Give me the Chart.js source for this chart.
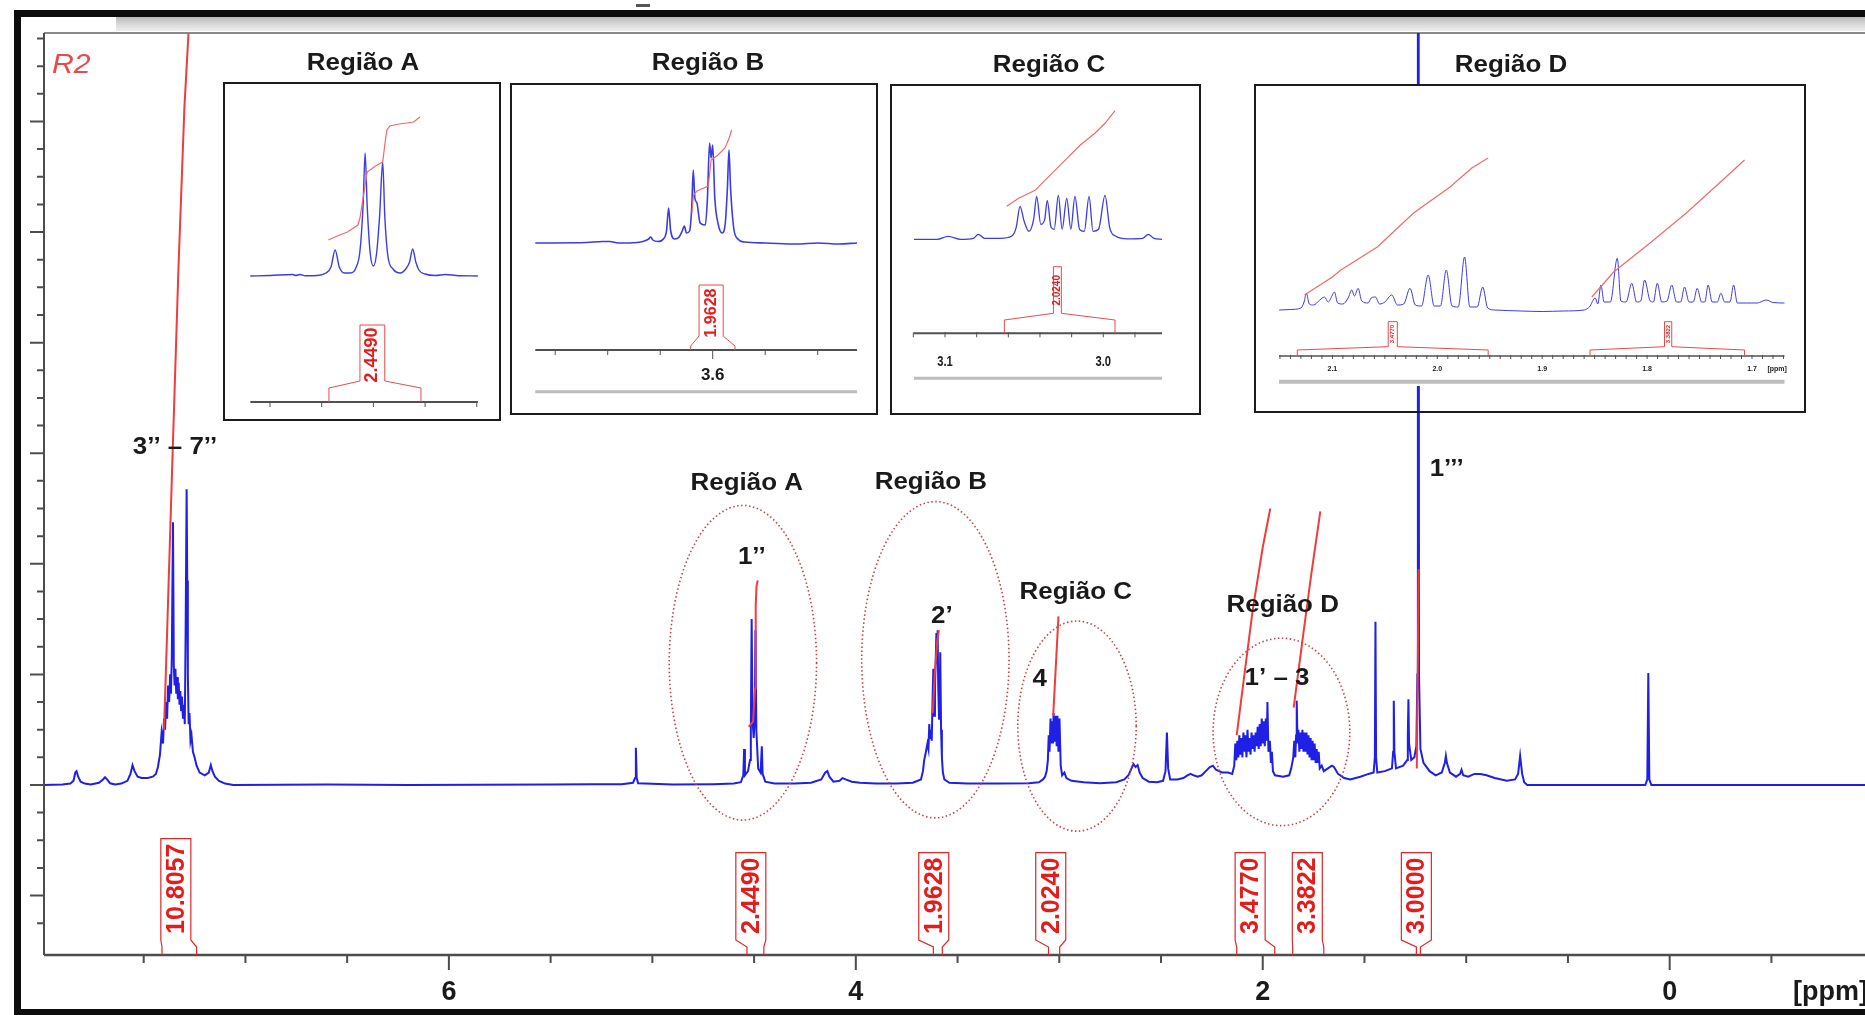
<!DOCTYPE html>
<html lang="pt">
<head>
<meta charset="utf-8">
<title>Espectro de RMN de 1H – R2</title>
<script src="https://cdn.jsdelivr.net/npm/chart.js@4.4.1/dist/chart.umd.min.js"></script>
<style>
  html, body { margin: 0; padding: 0; background: #fff; }
  #stage { position: relative; width: 1865px; height: 1015px; overflow: hidden; }
  #mainChart { position: absolute; left: 0; top: 0; }
  .inset { position: absolute; box-sizing: border-box; border: 2px solid #1b1b1b; background: #fff; }
  .inset canvas { display: block; }
</style>
</head>
<body>
<div id="stage">
  <canvas id="mainChart" width="1865" height="1015"></canvas>
  <div class="inset" style="left:223px;top:82px;width:278px;height:339px"><canvas id="insetA" width="274" height="335"></canvas></div>
  <div class="inset" style="left:510px;top:83px;width:368px;height:332px"><canvas id="insetB" width="364" height="328"></canvas></div>
  <div class="inset" style="left:890px;top:84px;width:311px;height:331px"><canvas id="insetC" width="307" height="327"></canvas></div>
  <div class="inset" style="left:1254px;top:84px;width:552px;height:329px;background:linear-gradient(#fff 0,#fff 300px,transparent 300px)"><canvas id="insetD" width="548" height="325"></canvas></div>
</div>
<script>
// ---------- textos ----------
const xTickLabels = ['6', '4', '2', '0'];
const xTickValues = [6, 4, 2, 0];
const regionLabels = ['Região A', 'Região B', 'Região C', 'Região D'];
const peakLabels = ['3\u2019\u2019 \u2013 7\u2019\u2019', '1\u2019\u2019', '2\u2019', '4', '1\u2019 \u2013 3', '1\u2019\u2019\u2019'];

// ---------- espectro principal: [ppm, intensidade] ----------
const specAromatic = [
  [7.99,0],[7.90,0.02],[7.86,0.05],[7.845,0.15],[7.836,0.45],[7.83,0.5],[7.822,0.3],[7.81,0.12],[7.79,0.05],
  [7.76,0.02],[7.72,0.08],[7.70,0.2],[7.69,0.28],[7.68,0.2],[7.665,0.06],[7.64,0.02],[7.61,0.05],[7.58,0.15],
  [7.565,0.4],[7.555,0.72],[7.545,0.5],[7.53,0.3],[7.51,0.25],[7.48,0.25],[7.455,0.3],[7.44,0.4],[7.43,0.65],
  [7.42,1.1],[7.412,1.9],[7.405,1.5],[7.40,2.4],[7.395,2.0],[7.39,3.0],[7.385,2.4],[7.38,3.6],[7.375,3.0],
  [7.37,4.0],[7.366,3.3],[7.362,4.6],[7.356,9.5],[7.352,4.3],[7.348,3.6],[7.344,4.2],[7.34,3.3],[7.336,3.9],
  [7.332,3.1],[7.328,3.7],[7.324,2.9],[7.32,3.4],[7.316,2.7],[7.312,3.2],[7.307,2.4],[7.302,2.9],[7.298,2.2],
  [7.294,5.5],[7.289,10.7],[7.286,7.4],[7.283,4.0],[7.279,2.2],[7.275,2.6],[7.27,1.6],[7.265,1.8],[7.258,1.2],
  [7.25,1.0],[7.24,0.7],[7.225,0.45],[7.2,0.35],[7.18,0.45],[7.17,0.72],[7.162,0.5],[7.15,0.3],[7.13,0.15],
  [7.10,0.05],[7.06,0]
];
const specOlefinic = [
  [6.6,0.02],[6.2,0],[5.5,0.02],[5.3,0.03],[5.15,0.03],[5.095,0.08],[5.085,0.25],[5.081,1.35],[5.077,0.25],
  [5.07,0.06],[4.9,0.02],[4.7,0.03]
];
const specRegionA = [
  [4.6,0.05],[4.565,0.1],[4.553,0.35],[4.549,1.3],[4.545,0.35],[4.53,0.5],[4.52,0.9],[4.516,2.0],[4.512,6.0],
  [4.508,2.4],[4.502,1.7],[4.497,2.4],[4.493,5.6],[4.489,2.0],[4.48,0.6],[4.468,0.45],[4.462,1.4],[4.458,0.4],
  [4.445,0.12],[4.40,0.05],[4.30,0.05],[4.22,0.08]
];
const specMidA = [
  [4.17,0.2],[4.15,0.45],[4.14,0.5],[4.13,0.3],[4.11,0.12],[4.08,0.15],[4.065,0.25],[4.05,0.2],[4.02,0.12],
  [3.98,0.08],[3.9,0.05],[3.8,0.05],[3.72,0.08]
];
const specRegionB = [
  [3.68,0.2],[3.67,0.5],[3.664,0.9],[3.658,1.1],[3.653,1.3],[3.648,1.5],[3.643,1.3],[3.639,2.2],[3.635,1.7],
  [3.631,2.0],[3.627,1.6],[3.623,3.0],[3.619,4.2],[3.615,2.5],[3.611,3.5],[3.607,4.6],[3.604,5.5],[3.601,4.4],
  [3.598,5.6],[3.595,3.6],[3.591,2.4],[3.588,3.0],[3.585,4.8],[3.581,2.0],[3.577,1.0],[3.572,0.45],[3.565,0.2],
  [3.54,0.08],[3.45,0.05],[3.3,0.05],[3.15,0.06]
];
const specRegionC = [
  [3.10,0.1],[3.08,0.2],[3.07,0.3],[3.062,0.5],[3.056,0.9],[3.052,1.8],[3.048,1.2],[3.043,2.4],[3.039,1.5],
  [3.035,2.3],[3.031,1.5],[3.028,2.6],[3.025,1.6],[3.023,2.5],[3.020,1.6],[3.018,2.5],[3.013,1.4],[3.009,2.5],
  [3.004,1.2],[2.999,2.4],[2.993,0.7],[2.986,0.35],[2.975,0.45],[2.965,0.25],[2.94,0.15],[2.88,0.1],[2.80,0.06],
  [2.72,0.1]
];
const specMidC = [
  [2.68,0.2],[2.66,0.35],[2.645,0.6],[2.635,0.75],[2.625,0.65],[2.615,0.72],[2.605,0.45],[2.59,0.25],[2.56,0.12],
  [2.52,0.1],[2.49,0.15],[2.478,0.5],[2.471,1.9],[2.465,0.6],[2.455,0.2],[2.42,0.2],[2.39,0.25],[2.37,0.35],
  [2.355,0.4],[2.34,0.35],[2.32,0.3],[2.30,0.35],[2.28,0.5],[2.26,0.65],[2.245,0.7],[2.23,0.55],[2.20,0.45],
  [2.17,0.45]
];
const specRegionD = [
  [2.15,0.4],[2.14,0.7],[2.135,1.5],[2.13,0.9],[2.125,1.6],[2.12,1.0],[2.115,1.8],[2.11,1.1],[2.105,1.7],[2.10,1.0],
  [2.095,1.9],[2.09,1.2],[2.085,1.8],[2.08,1.0],[2.075,2.0],[2.07,1.2],[2.065,1.7],[2.06,1.1],[2.055,1.9],
  [2.05,1.3],[2.045,1.8],[2.04,1.2],[2.035,1.9],[2.03,1.4],[2.025,2.1],[2.02,1.3],[2.015,2.2],[2.01,1.4],
  [2.005,2.4],[2.0,1.5],[1.995,2.3],[1.99,1.4],[1.985,2.4],[1.98,1.6],[1.977,3.0],[1.972,1.2],[1.965,1.6],
  [1.96,0.8],[1.955,1.2],[1.95,0.5],[1.94,0.35],[1.90,0.3],[1.87,0.35],[1.86,0.6],[1.85,1.0],[1.845,1.6],
  [1.84,1.0],[1.836,1.8],[1.833,3.05],[1.829,1.5],[1.825,2.0],[1.82,1.2],[1.815,1.9],[1.81,1.3],[1.805,2.0],
  [1.80,1.2],[1.795,1.9],[1.79,1.2],[1.785,1.9],[1.78,1.1],[1.775,1.8],[1.77,1.0],[1.765,1.7],[1.76,0.9],
  [1.755,1.6],[1.75,0.9],[1.745,1.5],[1.74,0.8],[1.735,1.3],[1.73,0.8],[1.725,1.2],[1.72,0.6],[1.71,0.7],
  [1.70,0.5],[1.68,0.6],[1.66,0.7],[1.65,0.65],[1.63,0.4],[1.60,0.25],[1.57,0.2]
];
const specAliphatic = [
  [1.52,0.3],[1.48,0.4],[1.455,0.45],[1.449,1.0],[1.446,5.9],[1.443,1.0],[1.437,0.45],[1.40,0.5],[1.365,0.6],
  [1.359,1.2],[1.356,3.05],[1.353,1.2],[1.345,0.6],[1.31,0.7],[1.29,0.9],[1.287,1.8],[1.284,3.1],[1.281,1.5],
  [1.27,0.9],[1.255,1.0],[1.245,1.4],[1.240,4],[1.2375,40],[1.2345,40],[1.232,4],[1.225,1.3],[1.21,0.8],
  [1.18,0.5],[1.15,0.35],[1.12,0.45],[1.105,0.8],[1.10,1.05],[1.095,0.8],[1.08,0.45],[1.05,0.3],[1.03,0.4],
  [1.023,0.55],[1.015,0.35],[0.99,0.3],[0.96,0.4],[0.93,0.4],[0.90,0.35],[0.86,0.25],[0.80,0.15],[0.76,0.2],
  [0.745,0.4],[0.735,1.05],[0.725,0.4],[0.715,0.1],[0.70,0],[0.12,0],[0.11,0.2],[0.105,4.05],[0.10,0.2],
  [0.09,0],[-0.96,0]
];

// ---------- curvas de integração (principal) ----------
const int3to7 = [[7.40,2.0],[7.385,5.5],[7.36,11.5],[7.33,18.5],[7.30,24.5],[7.27,28.5]];
const int1pp = [[4.526,2.1],[4.505,2.3],[4.495,3.5],[4.492,6.5],[4.488,7.2],[4.482,7.4]];
const int2p = [[3.622,2.6],[3.612,4.0],[3.600,5.2],[3.592,5.6]];
const int4 = [[3.030,2.5],[3.017,4.3],[3.004,6.1]];
const int1p3a = [[2.128,1.8],[2.09,4.0],[2.05,6.3],[2.00,8.6],[1.963,10.0]];
const int1p3b = [[1.848,2.8],[1.80,5.5],[1.76,7.7],[1.717,9.9]];
const int1ppp = [[1.243,0.6],[1.238,4.2],[1.234,7.8]];

const integralLabels = ['10.8057', '2.4490', '1.9628', '2.0240', '3.4770', '3.3822', '3.0000'];
const integralCenters = [7.342, 4.516, 3.617, 3.042, 2.062, 1.781, 1.245];
const integralRanges = [[7.41,7.24],[4.535,4.452],[3.619,3.575],[3.053,2.998],[2.128,1.941],[1.853,1.70],[1.245,1.225]];

// ---------- detalhes (insets) ----------
const specInsetA = [
  [4.619,0],[4.60,0.5],[4.578,1.5],[4.575,0.5],[4.571,1.5],[4.566,0.3],[4.552,0.8],[4.546,3],[4.541,9],[4.537,26],
  [4.533,9],[4.528,3],[4.522,3],[4.517,8],[4.513,25],[4.510,70],[4.508,123],[4.506,70],[4.503,22],[4.5,10],
  [4.497,22],[4.494,60],[4.491,114],[4.489,60],[4.486,20],[4.481,7],[4.474,3],[4.468,8],[4.465,14],[4.462,27],
  [4.459,14],[4.456,6],[4.450,2],[4.44,0.5],[4.43,1.5],[4.42,0.5],[4.399,0]
];
const intInsetA = [[4.5436,36],[4.535,40],[4.525,44],[4.515,51],[4.513,58],[4.508,91],[4.506,104],[4.498,110],
  [4.491,114],[4.489,131],[4.487,146],[4.484,150],[4.475,152],[4.461,154],[4.455,159]];

const specInsetB = [
  [3.769,0],[3.72,0.5],[3.705,1.5],[3.698,1.5],[3.69,0],[3.672,0.5],[3.665,2],[3.661,4],[3.659,6],[3.657,3],
  [3.652,1.5],[3.647,4],[3.644,12],[3.642,35],[3.640,12],[3.636,4],[3.632,6],[3.629,12],[3.627,17],[3.625,10],
  [3.622,12],[3.620,35],[3.6185,73],[3.617,45],[3.615,40],[3.612,20],[3.607,18],[3.605,45],[3.603,100],
  [3.6015,85],[3.6,98],[3.598,45],[3.595,20],[3.591,10],[3.588,20],[3.586,55],[3.5845,93],[3.583,55],
  [3.580,15],[3.576,4],[3.57,1],[3.55,0],[3.52,-1],[3.50,0],[3.48,-1],[3.4625,0]
];
const intInsetB = [[3.6198,30],[3.6183,48],[3.615,52],[3.6042,57],[3.6015,83],[3.595,88],[3.5883,95],[3.5843,105],[3.582,113]];

const specInsetC = [
  [3.1196,0],[3.105,0],[3.098,3],[3.09,0],[3.082,1],[3.079,5],[3.075,1],[3.065,1],[3.058,3],[3.055,12],
  [3.0526,33],[3.05,18],[3.047,8],[3.044,20],[3.0421,43],[3.0395,15],[3.037,20],[3.0354,39],[3.033,12],
  [3.031,10],[3.0284,44],[3.026,10],[3.0231,41],[3.0205,10],[3.0179,43],[3.015,10],[3.012,8],[3.009,43],
  [3.0065,8],[3.003,10],[2.9989,44],[2.996,12],[2.992,3],[2.985,0.5],[2.975,1],[2.9716,5],[2.968,1],[2.9629,0]
];
const intInsetC = [[3.061,33],[3.0535,41],[3.0495,44],[3.0431,49],[3.0337,64],[3.0242,79],[3.0147,94],[3.0053,106],[2.9989,116],[2.9926,128.6]];

const specInsetD = [
  [2.1508,0],[2.14,0.5],[2.130,2],[2.127,8],[2.1248,16.7],[2.122,6],[2.118,5],[2.112,10],[2.1075,13],[2.104,8],
  [2.1005,14],[2.0981,18],[2.095,7],[2.09,6],[2.085,12],[2.0815,20],[2.079,14],[2.0755,21.7],[2.072,9],[2.066,7],
  [2.063,12],[2.059,13],[2.055,6],[2.05,8],[2.0434,15],[2.038,5],[2.032,6],[2.026,21.7],[2.021,5],[2.015,4],
  [2.0087,35],[2.003,4],[1.997,4],[1.9914,40],[1.986,4],[1.98,3],[1.974,53],[1.969,3],[1.962,3],[1.9567,23],
  [1.952,2],[1.945,0],[1.92,-1],[1.90,-1.5],[1.88,-1],[1.86,0],[1.855,3],[1.8495,12],[1.847,6],[1.844,25],
  [1.841,8],[1.835,8],[1.8284,51.7],[1.825,9],[1.82,8],[1.8146,26.7],[1.81,8],[1.806,9],[1.8024,30],[1.797,9],
  [1.794,8],[1.7903,26.7],[1.786,8],[1.781,9],[1.7765,25],[1.772,8],[1.768,8],[1.7643,23],[1.760,8],[1.756,8],
  [1.7522,21.7],[1.748,8],[1.745,8],[1.7418,25],[1.738,8],[1.733,8],[1.7297,16.7],[1.726,8],[1.721,8],
  [1.7175,25],[1.714,7],[1.705,7],[1.695,7],[1.6863,10],[1.68,7.5],[1.669,7]
];
const intInsetD1 = [[2.1266,15],[2.1,33],[2.0919,40],[2.0572,63],[2.0226,97],[1.9879,123],[1.9671,142],[1.9515,152]];
const intInsetD2 = [[1.8527,13],[1.8319,38],[1.7972,67],[1.7626,97],[1.7279,130],[1.7071,150]];

const insetBTickLabels = ['3.6'];
const insetCTickLabels = ['3.1', '3.0'];
const insetDTickLabels = ['2.1', '2.0', '1.9', '1.8', '1.7'];

// ---------- utilidades ----------
const FONT = '"Liberation Sans", Arial, Helvetica, sans-serif';
const BLUE = '#1f1fe6';
const RED = '#f03c3c';
const toXY = arr => arr.map(p => ({ x: p[0], y: p[1] }));

function text(c, str, x, y, font, color, sx, align) {
  c.save();
  c.font = font;
  c.fillStyle = color;
  c.textAlign = align || 'center';
  c.textBaseline = 'middle';
  c.translate(x, y);
  c.scale(sx || 1, 1);
  c.fillText(str, 0, 0);
  c.restore();
}

function vText(c, str, x, y, font, color, align) {
  c.save();
  c.font = font;
  c.fillStyle = color;
  c.textAlign = align || 'center';
  c.textBaseline = 'middle';
  c.translate(x, y);
  c.rotate(-Math.PI / 2);
  c.fillText(str, 0, 0);
  c.restore();
}

// ---------- gráfico principal ----------
const mainDecor = {
  id: 'mainDecor',
  beforeDraw(chart) {
    const c = chart.ctx, W = chart.width, H = chart.height;
    c.save();
    c.fillStyle = '#fff';
    c.fillRect(0, 0, W, H);
    const g = c.createLinearGradient(0, 17, 0, 31);
    g.addColorStop(0, '#b9b9b9');
    g.addColorStop(0.5, '#d8d8d8');
    g.addColorStop(1, '#eeeeee');
    c.fillStyle = g;
    c.fillRect(116, 17, W - 116, 14);
    c.fillStyle = '#8a8a8a';
    c.fillRect(44, 32, W - 44, 2);
    c.fillStyle = '#0d0d0d';
    c.fillRect(14, 10, W - 14, 7);
    c.fillRect(14, 10, 7, H - 10);
    c.fillRect(14, H - 6, W - 14, 6);
    c.fillStyle = '#555';
    c.fillRect(636, 4, 14, 3);
    c.restore();
  },
  afterDatasetsDraw(chart) {
    // elipses pontilhadas das regiões
    const c = chart.ctx, xs = chart.scales.x, ys = chart.scales.y;
    const ellipses = [
      { x: 4.555, y: 4.42, rx: 0.362, ry: 5.69 },
      { x: 3.609, y: 4.53, rx: 0.362, ry: 5.72 },
      { x: 2.913, y: 2.13, rx: 0.291, ry: 3.8 },
      { x: 1.908, y: 1.92, rx: 0.336, ry: 3.39 }
    ];
    c.save();
    c.strokeStyle = '#c04545';
    c.lineWidth = 1.6;
    c.setLineDash([1.5, 2.5]);
    ellipses.forEach(e => {
      const cx = xs.getPixelForValue(e.x), cy = ys.getPixelForValue(e.y);
      const rx = Math.abs(xs.getPixelForValue(e.x + e.rx) - cx);
      const ry = Math.abs(ys.getPixelForValue(e.y + e.ry) - cy);
      c.beginPath();
      c.ellipse(cx, cy, rx, ry, 0, 0, Math.PI * 2);
      c.stroke();
    });
    c.restore();
  },
  afterDraw(chart) {
    const c = chart.ctx, xs = chart.scales.x, ys = chart.scales.y, a = chart.chartArea;
    c.save();
    c.strokeStyle = '#4d4d4d';
    c.lineWidth = 2;
    c.beginPath();
    c.moveTo(a.left, a.top);
    c.lineTo(a.left, a.bottom);
    for (let v = -5; v <= 27; v++) {
      const y = ys.getPixelForValue(v);
      const len = v % 4 === 0 ? 14 : 7;
      c.moveTo(a.left - len, y);
      c.lineTo(a.left, y);
    }
    c.stroke();

    c.lineWidth = 2.5;
    c.beginPath();
    c.moveTo(a.left, a.bottom);
    c.lineTo(a.right, a.bottom);
    c.stroke();
    c.lineWidth = 2;
    c.beginPath();
    for (let k = 15; k >= -1; k--) {
      const x = xs.getPixelForValue(k / 2);
      const len = k % 4 === 0 ? 15 : 8;
      c.moveTo(x, a.bottom);
      c.lineTo(x, a.bottom + len);
    }
    c.stroke();
    xTickLabels.forEach((t, i) => {
      text(c, t, xs.getPixelForValue(xTickValues[i]), 993, 'bold 27px ' + FONT, '#1a1a1a');
    });
    text(c, '[ppm]', 1793, 993, 'bold 27px ' + FONT, '#1a1a1a', 1, 'left');

    // rótulos das integrais
    c.font = 'bold 25px ' + FONT;
    c.strokeStyle = '#e02626';
    c.lineWidth = 1.2;
    integralLabels.forEach((lab, i) => {
      const cx = xs.getPixelForValue(integralCenters[i]);
      const w = c.measureText(lab).width;
      const yStart = 934, yTop = yStart - w - 5;
      const l = cx - 15, r = cx + 15;
      const rl = xs.getPixelForValue(integralRanges[i][0]);
      const rr = xs.getPixelForValue(integralRanges[i][1]);
      c.beginPath();
      c.moveTo(rl, a.bottom);
      c.lineTo(rl, 947);
      c.lineTo(l, 940);
      c.lineTo(l, yTop);
      c.lineTo(r, yTop);
      c.lineTo(r, 940);
      c.lineTo(rr, 947);
      c.lineTo(rr, a.bottom);
      c.stroke();
      vText(c, lab, cx + 1, yStart, 'bold 25px ' + FONT, '#e41c1c', 'left');
    });

    // rótulos de sinais e regiões
    const bold = 'bold 24px ' + FONT;
    const anchors = [
      [regionLabels[0], 4.536, 10.9], [regionLabels[1], 3.631, 10.95],
      [regionLabels[2], 2.919, 6.95], [regionLabels[3], 1.902, 6.5],
      [peakLabels[0], 7.346, 12.2], [peakLabels[1], 4.511, 8.25], [peakLabels[2], 3.577, 6.1],
      [peakLabels[3], 3.096, 3.83], [peakLabels[4], 1.93, 3.85], [peakLabels[5], 1.096, 11.4]
    ];
    anchors.forEach(t => {
      text(c, t[0], xs.getPixelForValue(t[1]), ys.getPixelForValue(t[2]), bold, '#1a1a1a', 1.08);
    });

    // títulos dos detalhes
    const titles = [[363, 63], [708, 63], [1049, 65], [1511, 65]];
    titles.forEach((p, i) => text(c, regionLabels[i], p[0], p[1], bold, '#1a1a1a', 1.08));
    text(c, 'R2', 52, 65, 'italic 28px ' + FONT, '#e84a4a', 1.08, 'left');
    c.restore();
  }
};

const mainIntegrals = [int3to7, int1pp, int2p, int4, int1p3a, int1p3b, int1ppp];
const mainSpectrum = [].concat(specAromatic, specOlefinic, specRegionA, specMidA, specRegionB,
  specRegionC, specMidC, specRegionD, specAliphatic);

new Chart(document.getElementById('mainChart'), {
  type: 'line',
  data: {
    datasets: mainIntegrals.map(seg => ({
      data: toXY(seg), borderColor: RED, borderWidth: 2, pointRadius: 0, tension: 0, fill: false, order: 0
    })).concat([{
      data: toXY(mainSpectrum), borderColor: BLUE, borderWidth: 2, pointRadius: 0, tension: 0, fill: false, order: 1
    }])
  },
  options: {
    responsive: false,
    animation: false,
    devicePixelRatio: 1,
    events: [],
    layout: { padding: { left: 44, top: 33, right: 0, bottom: 60 } },
    plugins: { legend: { display: false }, tooltip: { enabled: false } },
    scales: {
      x: { type: 'linear', reverse: true, min: -0.96, max: 7.99, display: false },
      y: { type: 'linear', min: -6.15, max: 27.2, display: false }
    }
  },
  plugins: [mainDecor]
});

// ---------- detalhes ----------
function insetDecor(cfg) {
  return {
    id: 'insetDecor',
    afterDraw(chart) {
      const c = chart.ctx, xs = chart.scales.x, ys = chart.scales.y;
      const X = v => xs.getPixelForValue(v), Y = v => ys.getPixelForValue(v);
      c.save();
      if (cfg.gray !== undefined) {
        c.strokeStyle = '#bdbdbd';
        c.lineWidth = cfg.grayWidth;
        c.beginPath();
        c.moveTo(X(cfg.axis[0]), Y(cfg.gray));
        c.lineTo(X(cfg.axis[1]), Y(cfg.gray));
        c.stroke();
      }
      c.strokeStyle = '#505050';
      c.lineWidth = cfg.axisWidth;
      c.beginPath();
      c.moveTo(X(cfg.axis[0]), Y(cfg.axisH));
      c.lineTo(X(cfg.axis[1]), Y(cfg.axisH));
      c.stroke();
      c.lineWidth = 1;
      c.beginPath();
      cfg.ticks.forEach(t => {
        const major = cfg.major.some(m => Math.abs(m - t) < 1e-6);
        const x = X(t), y = Y(cfg.axisH);
        c.moveTo(x, y - 1);
        c.lineTo(x, y + (major ? cfg.tickLen * 1.8 : cfg.tickLen));
      });
      c.stroke();
      cfg.labels.forEach((l, i) => {
        text(c, l, X(cfg.labelValues[i]), Y(cfg.labelH), cfg.labelFont, '#1a1a1a', cfg.labelSx || 1);
      });
      if (cfg.ppmLabel) text(c, '[ppm]', X(cfg.ppmLabel), Y(cfg.labelH), cfg.labelFont, '#1a1a1a');
      c.strokeStyle = '#e84a4a';
      c.lineWidth = 1;
      cfg.brackets.forEach(b => {
        c.beginPath();
        c.moveTo(X(b.range[0]), Y(cfg.axisH));
        c.lineTo(X(b.range[0]), Y(b.foot));
        c.lineTo(X(b.box[0]), Y(b.neck));
        c.lineTo(X(b.box[0]), Y(b.top));
        c.lineTo(X(b.box[1]), Y(b.top));
        c.lineTo(X(b.box[1]), Y(b.neck));
        c.lineTo(X(b.range[1]), Y(b.foot));
        c.lineTo(X(b.range[1]), Y(cfg.axisH));
        c.stroke();
        vText(c, b.text, X((b.box[0] + b.box[1]) / 2), Y(b.mid), b.font, '#e41c1c');
      });
      c.restore();
    }
  };
}

function makeInset(id, xr, yr, spec, integrals, decor, specWidth) {
  new Chart(document.getElementById(id), {
    type: 'line',
    data: {
      datasets: integrals.map(seg => ({
        data: toXY(seg), borderColor: '#ef6a6a', borderWidth: 1.2, pointRadius: 0, tension: 0, fill: false, order: 0
      })).concat([{
        data: toXY(spec), borderColor: '#3c3ce2', borderWidth: specWidth, pointRadius: 0,
        cubicInterpolationMode: 'monotone', fill: false, order: 1
      }])
    },
    options: {
      responsive: false,
      animation: false,
      devicePixelRatio: 1,
      events: [],
      layout: { padding: 0 },
      plugins: { legend: { display: false }, tooltip: { enabled: false } },
      scales: {
        x: { type: 'linear', reverse: true, min: xr[0], max: xr[1], display: false },
        y: { type: 'linear', min: yr[0], max: yr[1], display: false }
      }
    },
    plugins: [insetDecor(decor)]
  });
}

const stepTicks = (from, to, step) => {
  const out = [];
  for (let v = from; v >= to - 1e-9; v -= step) out.push(Math.round(v * 1000) / 1000);
  return out;
};

makeInset('insetA', [4.37853, 4.64352], [-143, 192], specInsetA, [intInsetA], {
  axis: [4.619, 4.399], axisH: -126, axisWidth: 2, tickLen: 5,
  ticks: [4.6, 4.55, 4.5, 4.45, 4.4], major: [], labels: [], labelValues: [],
  brackets: [{ range: [4.543, 4.454], box: [4.513, 4.489], foot: -112, neck: -105, top: -49, mid: -79,
    text: integralLabels[1], font: 'bold 18px ' + FONT }]
}, 1.4);

makeInset('insetB', [3.44448, 3.79114], [-170, 158], specInsetB, [intInsetB], {
  axis: [3.769, 3.4625], axisH: -107, axisWidth: 2, tickLen: 5, gray: -148.7, grayWidth: 3,
  ticks: [3.75, 3.70, 3.65, 3.60, 3.55, 3.50], major: [3.6],
  labels: insetBTickLabels, labelValues: [3.6], labelH: -132, labelFont: 'bold 17px ' + FONT,
  brackets: [{ range: [3.621, 3.5788], box: [3.613, 3.590], foot: -103, neck: -93, top: -42, mid: -70,
    text: integralLabels[2], font: 'bold 16px ' + FONT }]
}, 1.6);

makeInset('insetC', [2.93954, 3.13348], [-173.7, 153.3], specInsetC, [intInsetC], {
  axis: [3.1196, 2.9629], axisH: -94, axisWidth: 2, tickLen: 4, gray: -139, grayWidth: 3,
  ticks: stepTicks(3.12, 2.98, 0.02), major: [],
  labels: insetCTickLabels, labelValues: [3.1, 3.0], labelH: -122.4, labelFont: 'bold 14px ' + FONT, labelSx: 0.8,
  brackets: [{ range: [3.0625, 2.9926], box: [3.0315, 3.0265], foot: -80.7, neck: -74, top: -27.4, mid: -51,
    text: integralLabels[3], font: 'bold 10px ' + FONT }]
}, 1.3);

makeInset('insetD', [1.65042, 2.17283], [-101, 224], specInsetD, [intInsetD1, intInsetD2], {
  axis: [2.1509, 1.669], axisH: -46, axisWidth: 1.5, tickLen: 3, gray: -71.7, grayWidth: 4,
  ticks: stepTicks(2.15, 1.67, 0.01), major: [],
  labels: insetDTickLabels, labelValues: [2.1, 2.0, 1.9, 1.8, 1.7], labelH: -59.3, labelFont: 'bold 7px ' + FONT,
  ppmLabel: 1.676,
  brackets: [
    { range: [2.1335, 1.9515], box: [2.0468, 2.0381], foot: -40, neck: -36.7, top: -11.7, mid: -24,
      text: integralLabels[4], font: 'bold 6px ' + FONT },
    { range: [1.8544, 1.7071], box: [1.7834, 1.7765], foot: -40, neck: -36.7, top: -11.7, mid: -24,
      text: integralLabels[5], font: 'bold 6px ' + FONT }
  ]
}, 1.0);
</script>
</body>
</html>
